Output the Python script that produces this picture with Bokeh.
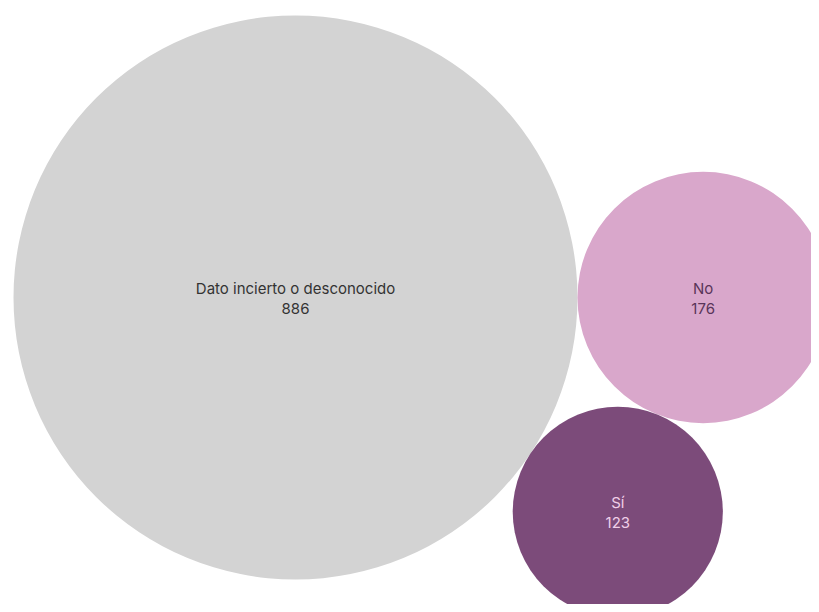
import math
from bokeh.plotting import figure
from bokeh.models import Range1d, ColumnDataSource
from bokeh.core.properties import value
from bokeh.embed import file_html
from bokeh.resources import INLINE

categories = ["Dato incierto o desconocido", "No", "Sí"]
counts = [886, 176, 123]
fill_colors = ["#d3d3d3", "#d9a7cb", "#7c4b7a"]
text_colors = ["#333333", "#5a3559", "#f0cfe8"]

W, H = 811, 604
scale = 282 / math.sqrt(max(counts))
radii = [scale * math.sqrt(c) for c in counts]

# simple circle packing: largest, then tangent to its right, then tangent to both below
c1 = (295.0, 297.0)
c2 = (c1[0] + radii[0] + radii[1], c1[1])
d = c2[0] - c1[0]
a = radii[0] + radii[2]
b = radii[1] + radii[2]
xa = (a * a - b * b + d * d) / (2 * d)
h = math.sqrt(max(a * a - xa * xa, 0))
c3 = (c1[0] + xa, c1[1] + h)
centers = [c1, c2, c3]

src = ColumnDataSource(dict(
    x=[c[0] for c in centers],
    y=[c[1] for c in centers],
    r=radii,
    fill=fill_colors,
    tcol=text_colors,
    label=categories,
    val=[str(c) for c in counts],
    ly=[c[1] - 9 for c in centers],
    vy=[c[1] + 11 for c in centers],
))

p = figure(width=W, height=H, output_backend="svg", toolbar_location=None,
           x_range=Range1d(0, W), y_range=Range1d(H, 0),
           min_border=0)
p.axis.visible = False
p.grid.visible = False
p.outline_line_color = None
p.background_fill_color = "white"
p.border_fill_color = "white"

p.circle(x="x", y="y", radius="r", fill_color="fill", line_color=None, source=src)
p.text(x="x", y="ly", text="label", text_color="tcol", text_align="center",
       text_baseline="middle", text_font=value("Inter"), text_font_size="15px", source=src)
p.text(x="x", y="vy", text="val", text_color="tcol", text_align="center",
       text_baseline="middle", text_font=value("Inter"), text_font_size="15px", source=src)

open("out.html", "w").write(file_html(p, INLINE))
